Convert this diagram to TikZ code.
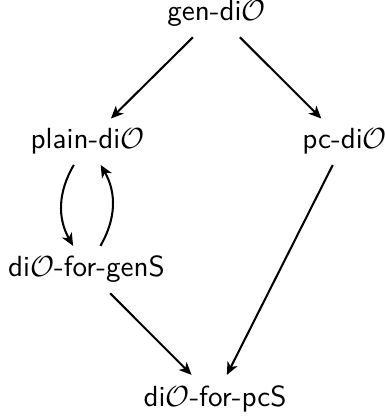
\documentclass[tikz,border=0pt]{standalone}
\usetikzlibrary{arrows.meta}
\begin{document}
\begin{tikzpicture}[x=0.3436pt,y=-0.3436pt,
  lbl/.style={font=\sffamily, anchor=base, inner sep=3.33pt},
  arr/.style={line width=0.7pt, -{Stealth[length=4.3pt,width=3.8pt,inset=1.2pt]}}]
\useasboundingbox (0,0) rectangle (384,417);
\node[lbl] (gen) at (216.5,21) {gen-di$\mathcal{O}$};
\node[lbl] (plain) at (87.5,149) {plain-di$\mathcal{O}$};
\node[lbl] (pc) at (344.5,149) {pc-di$\mathcal{O}$};
\node[lbl] (genS) at (86.5,277) {di$\mathcal{O}$-for-genS};
\node[lbl] (pcS) at (215,406) {di$\mathcal{O}$-for-pcS};
\draw[arr] (gen) -- (plain);
\draw[arr] (gen) -- (pc);
\draw[arr] (plain) to[bend right=30] (genS);
\draw[arr] (genS) to[bend right=30] (plain);
\draw[arr] (genS) -- (pcS);
\draw[arr] (pc) -- (pcS);
\end{tikzpicture}
\end{document}
